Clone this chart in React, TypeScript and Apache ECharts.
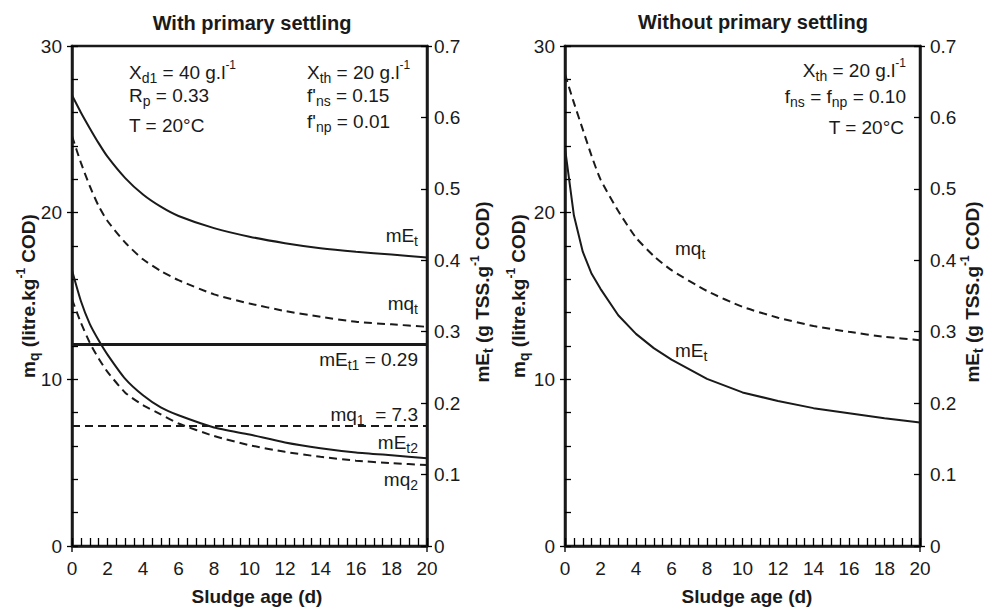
import React, { useEffect, useRef } from "react";
import * as echarts from "echarts";

// ---------- data ----------
const sludgeAge = [0, 0.5, 1, 1.5, 2, 3, 4, 5, 6, 8, 10, 12, 14, 16, 18, 20];
// With primary settling
const withMEt = [0.631, 0.607, 0.585, 0.564, 0.545, 0.515, 0.492, 0.475, 0.462, 0.445, 0.433, 0.424, 0.417, 0.412, 0.408, 0.404];
const withMqT = [24.6, 23.0, 21.6, 20.4, 19.5, 18.2, 17.2, 16.5, 15.95, 15.1, 14.55, 14.1, 13.75, 13.45, 13.3, 13.15];
const withMEt2 = [0.386, 0.343, 0.311, 0.288, 0.268, 0.234, 0.211, 0.194, 0.183, 0.166, 0.156, 0.145, 0.137, 0.131, 0.127, 0.123];
const withMq2 = [14.8, 13.4, 12.2, 11.25, 10.45, 9.2, 8.45, 7.9, 7.35, 6.6, 6.05, 5.65, 5.35, 5.12, 4.97, 4.86];
const levelSpan = [0, 20];
const mEt1Level = 0.282;
const mq1Level = 7.2;
// Without primary settling
const withoutMqT = [28.3, 26.6, 25.0, 23.4, 22.0, 20.1, 18.5, 17.4, 16.55, 15.3, 14.35, 13.7, 13.2, 12.85, 12.55, 12.35];
const withoutMEt = [0.557, 0.463, 0.412, 0.381, 0.36, 0.323, 0.297, 0.277, 0.261, 0.234, 0.215, 0.203, 0.193, 0.186, 0.179, 0.173];

const titles = ["With primary settling", "Without primary settling"];
const xName = "Sludge age (d)";

// ---------- styling ----------
const FONT = '"Liberation Sans", Arial, Helvetica, sans-serif';
const INK = "#1a1a1a";
const FS = 19;

const zip = (xs: number[], ys: number[]) => xs.map((x, i) => [x, ys[i]]);

const rich = {
  n: { fontSize: FS, lineHeight: 26, fontFamily: FONT, fill: INK, color: INK },
  s: { fontSize: 14, lineHeight: 15, verticalAlign: "bottom", fontFamily: FONT, fill: INK, color: INK },
  u: { fontSize: 12, lineHeight: 11, verticalAlign: "top", fontFamily: FONT, fill: INK, color: INK },
  b: { fontSize: FS, lineHeight: 26, fontWeight: "bold", fontFamily: FONT, fill: INK, color: INK },
  bs: { fontSize: 14, lineHeight: 15, verticalAlign: "bottom", fontWeight: "bold", fontFamily: FONT, fill: INK, color: INK },
  bu: { fontSize: 12, lineHeight: 11, verticalAlign: "top", fontWeight: "bold", fontFamily: FONT, fill: INK, color: INK },
};

function txt(text: string, x: number, y: number, align = "left", rotation = 0) {
  return {
    type: "text",
    x,
    y,
    rotation,
    silent: true,
    style: {
      text,
      rich,
      align,
      verticalAlign: "middle",
      fill: INK,
      font: `${FS}px ${FONT}`,
    },
  };
}

const GRIDS = [
  { left: 72, top: 46, width: 355, height: 500 },
  { left: 565, top: 46, width: 355, height: 500 },
];

function buildOption() {
  const axisLabel = { color: INK, fontSize: FS, fontFamily: FONT };
  const tickLine = { color: "#000", width: 1.3 };
  const xAxis: any[] = [];
  const yAxis: any[] = [];
  GRIDS.forEach((_, g) => {
    xAxis.push({
      type: "value",
      gridIndex: g,
      position: "bottom",
      min: 0,
      max: 20,
      interval: 2,
      axisLine: { show: true, onZero: false, lineStyle: { color: INK, width: 2.5 } },
      axisTick: { show: true, inside: true, length: 8, lineStyle: tickLine },
      minorTick: { show: true, splitNumber: 4, length: 8, lineStyle: tickLine },
      axisLabel: { ...axisLabel, margin: 13 },
      splitLine: { show: false },
      minorSplitLine: { show: false },
    });
  });
  GRIDS.forEach((_, g) => {
    xAxis.push({
      type: "value",
      gridIndex: g,
      position: "bottom",
      min: 0,
      max: 20,
      interval: 20,
      axisLine: { show: false, onZero: false },
      axisTick: { show: true, inside: false, length: 6, lineStyle: { color: INK, width: 1.5 } },
      axisLabel: { show: false },
      splitLine: { show: false },
    });
  });
  GRIDS.forEach((_, g) => {
    // left m_q axis
    yAxis.push({
      type: "value",
      gridIndex: g,
      position: "left",
      min: 0,
      max: 30,
      interval: 2,
      axisLine: { show: true, onZero: false, lineStyle: { color: INK, width: 2.5 } },
      axisTick: { show: true, inside: true, length: 6, lineStyle: tickLine },
      axisLabel: {
        ...axisLabel,
        margin: 10,
        formatter: (v: number) => (Math.round(v) % 10 === 0 ? String(Math.round(v)) : ""),
      },
      splitLine: { show: false },
    });
    // right mE axis
    yAxis.push({
      type: "value",
      gridIndex: g,
      position: "right",
      min: 0,
      max: 0.7,
      interval: 0.1,
      axisLine: { show: true, onZero: false, lineStyle: { color: INK, width: 2.5 } },
      axisTick: { show: true, inside: true, length: 6, lineStyle: tickLine },
      axisLabel: {
        ...axisLabel,
        margin: g === 0 ? 7 : 10,
        formatter: (v: number) => (v === 0 ? "0" : v.toFixed(1)),
      },
      splitLine: { show: false },
    });
    // outward major ticks left
    yAxis.push({
      type: "value",
      gridIndex: g,
      position: "left",
      min: 0,
      max: 30,
      interval: 10,
      axisLine: { show: false, onZero: false },
      axisTick: { show: true, inside: false, length: 5, lineStyle: tickLine },
      axisLabel: { show: false },
      splitLine: { show: false },
    });
    // outward end ticks right
    yAxis.push({
      type: "value",
      gridIndex: g,
      position: "right",
      min: 0,
      max: 0.7,
      interval: 0.7,
      axisLine: { show: false, onZero: false },
      axisTick: { show: true, inside: false, length: 5, lineStyle: tickLine },
      axisLabel: { show: false },
      splitLine: { show: false },
    });
  });

  const line = (name: string, xi: number, yi: number, data: number[][], dashed: boolean, width = 2, smooth: number | boolean = 0.2) => ({
    name,
    type: "line",
    xAxisIndex: xi,
    yAxisIndex: yi,
    data,
    showSymbol: false,
    symbol: "none",
    smooth,
    silent: true,
    lineStyle: { color: INK, width, type: dashed ? [8, 5] : "solid" },
  });

  const series = [
    line("mEt (with)", 0, 1, zip(sludgeAge, withMEt), false),
    line("mqt (with)", 0, 0, zip(sludgeAge, withMqT), true),
    line("mEt2", 0, 1, zip(sludgeAge, withMEt2), false),
    line("mq2", 0, 0, zip(sludgeAge, withMq2), true),
    line("mEt1", 0, 1, levelSpan.map((x) => [x, mEt1Level]), false, 3, false),
    line("mq1", 0, 0, levelSpan.map((x) => [x, mq1Level]), true, 2, false),
    line("mqt (without)", 1, 4, zip(sludgeAge, withoutMqT), true),
    line("mEt (without)", 1, 5, zip(sludgeAge, withoutMEt), false, 2, false),
  ];

  const graphic = [
    // titles
    {
      type: "text", x: 252, y: 23, silent: true,
      style: { text: titles[0], align: "center", verticalAlign: "middle", fill: INK, font: `bold 20px ${FONT}` },
    },
    {
      type: "text", x: 753, y: 22, silent: true,
      style: { text: titles[1], align: "center", verticalAlign: "middle", fill: INK, font: `bold 20px ${FONT}` },
    },
    // x axis names
    {
      type: "text", x: 257, y: 596, silent: true,
      style: { text: xName, align: "center", verticalAlign: "middle", fill: INK, font: `bold ${FS}px ${FONT}` },
    },
    {
      type: "text", x: 747, y: 596, silent: true,
      style: { text: xName, align: "center", verticalAlign: "middle", fill: INK, font: `bold ${FS}px ${FONT}` },
    },
    // y axis names
    txt("{b|m}{bs|q}{b| (litre.kg}{bu|-1}{b| COD)}", 28, 296, "center", Math.PI / 2),
    txt("{b|mE}{bs|t}{b| (g TSS.g}{bu|-1}{b| COD)}", 482, 292, "center", Math.PI / 2),
    txt("{b|m}{bs|q}{b| (litre.kg}{bu|-1}{b| COD)}", 518, 296, "center", Math.PI / 2),
    txt("{b|mE}{bs|t}{b| (g TSS.g}{bu|-1}{b| COD)}", 972, 292, "center", Math.PI / 2),
    // left plot annotations
    txt("{n|X}{s|d1}{n| = 40 g.l}{u|-1}", 129, 72),
    txt("{n|R}{s|p}{n| = 0.33}", 129, 95),
    txt("{n|T = 20°C}", 129, 125),
    txt("{n|X}{s|th}{n| = 20 g.l}{u|-1}", 307, 72),
    txt("{n|f'}{s|ns}{n| = 0.15}", 307, 95),
    txt("{n|f'}{s|np}{n| = 0.01}", 307, 121),
    // left plot curve labels
    txt("{n|mE}{s|t}", 418, 235, "right"),
    txt("{n|mq}{s|t}", 418, 303, "right"),
    txt("{n|mE}{s|t1}{n| = 0.29}", 418, 359, "right"),
    txt("{n|mq}{s|1}{n|  = 7.3}", 418, 414, "right"),
    txt("{n|mE}{s|t2}", 418, 442, "right"),
    txt("{n|mq}{s|2}", 418, 479, "right"),
    // right plot annotations
    txt("{n|X}{s|th}{n| = 20 g.l}{u|-1}", 906, 70, "right"),
    txt("{n|f}{s|ns}{n| = f}{s|np}{n| = 0.10}", 906, 96, "right"),
    txt("{n|T = 20°C}", 904, 127, "right"),
    // right plot curve labels
    txt("{n|mq}{s|t}", 675, 248),
    txt("{n|mE}{s|t}", 675, 350),
  ];

  return {
    animation: false,
    backgroundColor: "#ffffff",
    textStyle: { fontFamily: FONT, color: INK },
    grid: GRIDS.map((g) => ({ ...g, show: true, borderColor: INK, borderWidth: 2.5, backgroundColor: "transparent", containLabel: false })),
    xAxis,
    yAxis,
    series,
    graphic,
  };
}

export default function App() {
  const ref = useRef<HTMLDivElement>(null);
  useEffect(() => {
    if (!ref.current) return;
    const chart = echarts.init(ref.current, undefined, { renderer: "svg" });
    chart.setOption(buildOption() as any);
    return () => chart.dispose();
  }, []);
  return (
    <div
      ref={ref}
      style={{ position: "fixed", left: 0, top: 0, width: 986, height: 611, background: "#fff" }}
    />
  );
}
